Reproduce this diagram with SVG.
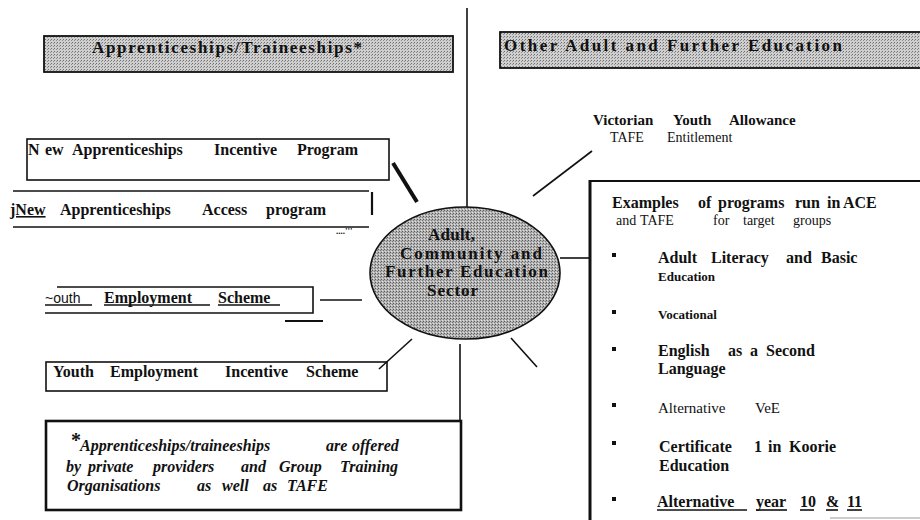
<svg xmlns="http://www.w3.org/2000/svg" width="920" height="520" viewBox="0 0 920 520">
<style>
.t{font-family:'Liberation Serif','DejaVu Serif','Times New Roman',serif;fill:#111}
.b{font-weight:bold}
.i{font-style:italic}
.s16{font-size:16px}
.s15{font-size:15px}
.s14{font-size:14px}
.s13{font-size:13px}
.box{fill:none;stroke:#111;stroke-width:1.6}
.ln{stroke:#111;stroke-width:1.6;fill:none}
.hdr{fill:url(#dots);stroke:#111;stroke-width:1.8}
.hd{font-family:'Liberation Serif','DejaVu Serif','Times New Roman',serif;font-weight:bold;font-size:17px;fill:#111}
.sans{font-family:'Liberation Sans','DejaVu Sans',Arial,sans-serif;font-size:14px;fill:#111}
</style>
<defs>
<pattern id="dots" width="3" height="3" patternUnits="userSpaceOnUse">
<rect width="3" height="3" fill="#cfcfcf"/>
<rect x="0" y="0" width="1" height="1" fill="#6e6e6e"/>
<rect x="2" y="1" width="1" height="1" fill="#8e8e8e"/>
</pattern>
<pattern id="dots2" width="3" height="3" patternUnits="userSpaceOnUse">
<rect width="3" height="3" fill="#b4b4b4"/>
<rect x="0" y="0" width="1" height="1" fill="#5a5a5a"/>
<rect x="2" y="1" width="1" height="1" fill="#7a7a7a"/>
<rect x="1" y="2" width="1" height="1" fill="#e2e2e2"/>
</pattern>
</defs>
<rect width="920" height="520" fill="#fff"/>

<g id="connectors">
<line class="ln" x1="467" y1="8" x2="467" y2="209"/>
<line x1="393" y1="163" x2="417" y2="202" stroke="#111" stroke-width="4"/>
<line class="ln" x1="533" y1="196" x2="592" y2="151"/>
<line class="ln" x1="560" y1="258" x2="590" y2="258"/>
<line class="ln" x1="320" y1="300" x2="362" y2="300"/>
<line class="ln" x1="412" y1="339" x2="379" y2="369"/>
<line class="ln" x1="460" y1="344" x2="460" y2="421"/>
<line class="ln" x1="511" y1="338" x2="537" y2="367"/>
</g>

<g id="header-apprenticeships">
<rect class="hdr" x="44" y="36" width="409" height="36"/>
<text class="hd" x="92" y="53" textLength="270" lengthAdjust="spacing">Apprenticeships/Traineeships*</text>
</g>

<g id="header-other">
<rect class="hdr" x="500" y="32" width="425" height="36"/>
<text class="hd" x="504" y="51" textLength="338" lengthAdjust="spacing">Other Adult and Further Education</text>
</g>

<g id="sector">
<ellipse cx="465" cy="273" rx="95" ry="66" fill="url(#dots2)" stroke="#111" stroke-width="1.6"/>
<text class="hd" x="428" y="240" textLength="47" lengthAdjust="spacing">Adult,</text>
<text class="hd" x="400" y="259" textLength="142" lengthAdjust="spacing">Community and</text>
<text class="hd" x="385" y="277" textLength="163" lengthAdjust="spacing">Further Education</text>
<text class="hd" x="427" y="296" textLength="51" lengthAdjust="spacing">Sector</text>
</g>

<g id="new-apprenticeships-incentive">
<rect class="box" x="27" y="139" width="362" height="41"/>
<text class="t b s16" y="155"><tspan x="28">N</tspan><tspan x="45">ew</tspan><tspan x="72">Apprenticeships</tspan><tspan x="214">Incentive</tspan><tspan x="297">Program</tspan></text>
</g>

<g id="new-apprenticeships-access">
<line class="ln" x1="13" y1="191" x2="369" y2="191"/>
<line class="ln" x1="13" y1="227" x2="369" y2="227"/>
<line x1="372" y1="192" x2="372" y2="215" stroke="#111" stroke-width="2.2"/>
<text class="t b s16" y="215"><tspan x="10" text-decoration="underline">jNew</tspan><tspan x="60">Apprenticeships</tspan><tspan x="202">Access</tspan><tspan x="266">program</tspan></text>
<text class="t b" x="336" y="234" font-size="9">....'''</text>
</g>

<g id="youth-employment-scheme">
<polyline class="ln" points="57,287 313,287 313,313 45,313"/>
<text class="sans" x="45" y="303">~outh</text>
<line class="ln" x1="45" y1="305" x2="92" y2="305"/>
<text class="t b s16" x="104" y="303">Employment</text>
<line class="ln" x1="104" y1="305" x2="210" y2="305"/>
<text class="t b s16" x="218" y="303">Scheme</text>
<line class="ln" x1="218" y1="305" x2="280" y2="305"/>
<line x1="285" y1="321" x2="323" y2="321" stroke="#111" stroke-width="2"/>
</g>

<g id="youth-employment-incentive">
<rect class="box" x="46" y="362" width="341" height="29"/>
<text class="t b s16" y="377"><tspan x="53">Youth</tspan><tspan x="110">Employment</tspan><tspan x="225">Incentive</tspan><tspan x="306">Scheme</tspan></text>
</g>

<g id="footnote">
<rect x="46" y="421" width="415" height="89" fill="none" stroke="#111" stroke-width="2.6"/>
<text class="t b" x="71" y="447" font-size="20">*</text>
<text class="t b i s16" y="451"><tspan x="80">Apprenticeships/traineeships</tspan><tspan x="326">are</tspan><tspan x="352">offered</tspan></text>
<text class="t b i s16" y="472"><tspan x="66">by</tspan><tspan x="88">private</tspan><tspan x="153">providers</tspan><tspan x="241">and</tspan><tspan x="279">Group</tspan><tspan x="340">Training</tspan></text>
<text class="t b i s16" y="491"><tspan x="67">Organisations</tspan><tspan x="197">as</tspan><tspan x="222">well</tspan><tspan x="263">as</tspan><tspan x="287">TAFE</tspan></text>
</g>

<g id="victorian-youth">
<text class="t b s15" y="125"><tspan x="593">Victorian</tspan><tspan x="673">Youth</tspan><tspan x="729">Allowance</tspan></text>
<text class="t s14" y="142"><tspan x="610">TAFE</tspan><tspan x="667">Entitlement</tspan></text>
</g>

<g id="examples-programs">
<line x1="590" y1="181" x2="920" y2="181" stroke="#111" stroke-width="2"/>
<line x1="590" y1="180" x2="590" y2="520" stroke="#111" stroke-width="3"/>
<line x1="830" y1="518" x2="920" y2="518" stroke="#bbb" stroke-width="1.5"/>
<text class="t b s16" y="208"><tspan x="612">Examples</tspan><tspan x="698">of</tspan><tspan x="718">programs</tspan><tspan x="795">run</tspan><tspan x="827">in</tspan><tspan x="843">ACE</tspan></text>
<text class="t s14" y="225"><tspan x="616">and</tspan><tspan x="640">TAFE</tspan><tspan x="713">for</tspan><tspan x="743">target</tspan><tspan x="793">groups</tspan></text>

<rect x="612" y="253" width="4" height="4" fill="#111"/>
<text class="t b s16" y="263"><tspan x="658">Adult</tspan><tspan x="711">Literacy</tspan><tspan x="786">and</tspan><tspan x="821">Basic</tspan></text>
<text class="t b s13" x="658" y="281">Education</text>

<rect x="612" y="310" width="4" height="4" fill="#111"/>
<text class="t b s13" x="658" y="319">Vocational</text>

<rect x="612" y="347" width="4" height="4" fill="#111"/>
<text class="t b s16" y="356"><tspan x="658">English</tspan><tspan x="728">as</tspan><tspan x="750">a</tspan><tspan x="766">Second</tspan></text>
<text class="t b s16" x="658" y="374">Language</text>

<rect x="612" y="403" width="4" height="4" fill="#111"/>
<text class="t s15" y="413"><tspan x="658">Alternative</tspan><tspan x="755">VeE</tspan></text>

<rect x="612" y="441" width="4" height="4" fill="#111"/>
<text class="t b s16" y="452"><tspan x="659">Certificate</tspan><tspan x="754">1</tspan><tspan x="768">in</tspan><tspan x="789">Koorie</tspan></text>
<text class="t b s16" x="659" y="471">Education</text>

<rect x="612" y="497" width="4" height="4" fill="#111"/>
<text class="t b s16" y="507"><tspan x="657">Alternative</tspan><tspan x="756">year</tspan><tspan x="800">10</tspan><tspan x="826">&amp;</tspan><tspan x="847">11</tspan></text>
<line class="ln" x1="657" y1="510" x2="747" y2="510"/>
<line class="ln" x1="756" y1="510" x2="787" y2="510"/>
<line class="ln" x1="800" y1="510" x2="814" y2="510"/>
<line class="ln" x1="826" y1="510" x2="838" y2="510"/>
<line class="ln" x1="847" y1="510" x2="862" y2="510"/>
</g>
</svg>
